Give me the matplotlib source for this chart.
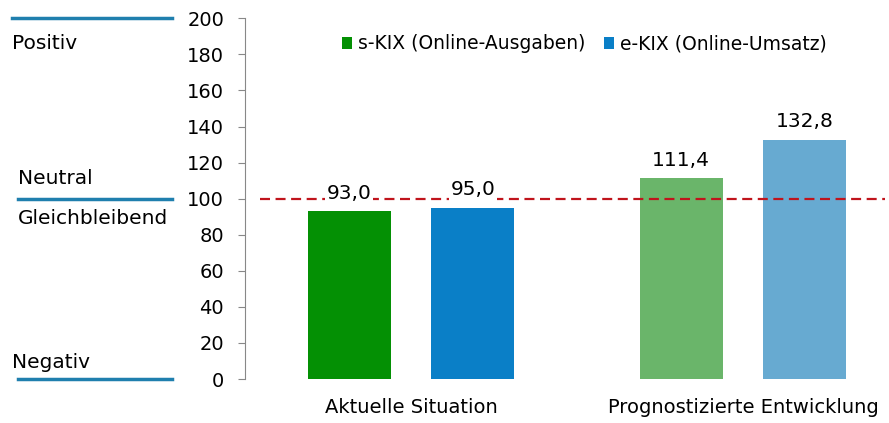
import numpy as np
import matplotlib.pyplot as plt

plt.rcParams['font.family'] = ['DejaVu Sans']

kategorien = ['Aktuelle Situation', 'Prognostizierte Entwicklung']
s_kix = [93.0, 111.4]
e_kix = [95.0, 132.8]
serien = ['s-KIX (Online-Ausgaben)', 'e-KIX (Online-Umsatz)']
farben_s = ['#049004', '#6ab56a']
farben_e = ['#0a7fc7', '#67aad1']
stufen = [200, 100, 0]
stufen_text = [('Positiv', 186), ('Neutral', 111), ('Gleichbleibend', 89), ('Negativ', 9)]

fig = plt.figure(figsize=(8.89, 4.23), dpi=100)
ax = fig.add_axes([0.2756, 0.104, 0.7244, 0.8527])

x = np.arange(len(kategorien))
b = 0.25
ax.bar(x - 0.186, s_kix, b, color=farben_s, label=serien[0])
ax.bar(x + 0.186, e_kix, b, color=farben_e, label=serien[1])

# Referenzlinie bei 100
ax.axhline(100, xmin=0.023, xmax=0.994, color='#c0141c', lw=1.6,
           dashes=(4.5, 2.5), zorder=1)

for xs, v in zip(x - 0.186, s_kix):
    ax.annotate(f'{v:.1f}'.replace('.', ','), (xs, v), xytext=(0, 6),
                textcoords='offset points', ha='center', va='bottom', fontsize=14.5,
                bbox=dict(fc='white', ec='none', pad=1))
for xs, v in zip(x + 0.186, e_kix):
    ax.annotate(f'{v:.1f}'.replace('.', ','), (xs, v), xytext=(0, 6),
                textcoords='offset points', ha='center', va='bottom', fontsize=14.5,
                bbox=dict(fc='white', ec='none', pad=1))

ax.set_ylim(0, 200)
ax.set_yticks(range(0, 201, 20))
ax.set_xlim(-0.5, 1.44)
ax.set_xticks(x)
ax.set_xticklabels(kategorien, fontsize=14)
ax.tick_params(axis='x', length=0, pad=14)
ax.tick_params(axis='y', length=5, color='#888888', labelsize=14, pad=10)
for s in ['top', 'right', 'bottom']:
    ax.spines[s].set_visible(False)
ax.spines['left'].set_color('#888888')

# Beschriftung links
tr = ax.get_yaxis_transform()
for st in stufen:
    x0 = -0.362 if st == 200 else -0.353
    ax.plot([x0, -0.113], [st, st], transform=tr, clip_on=False,
            color='#1f7fae', lw=2.5)
for t, yv in stufen_text:
    x0 = -0.362 if t in ('Positiv', 'Negativ') else -0.352
    ax.text(x0, yv, t, transform=tr, ha='left', va='center', fontsize=14.5)

fig.legend(loc='center', bbox_to_anchor=(0.657, 0.896), ncol=2, frameon=False,
           fontsize=13.5, handlelength=0.55, handleheight=0.55, handletextpad=0.3,
           columnspacing=1.0)

fig.savefig('out.png', dpi=100)
